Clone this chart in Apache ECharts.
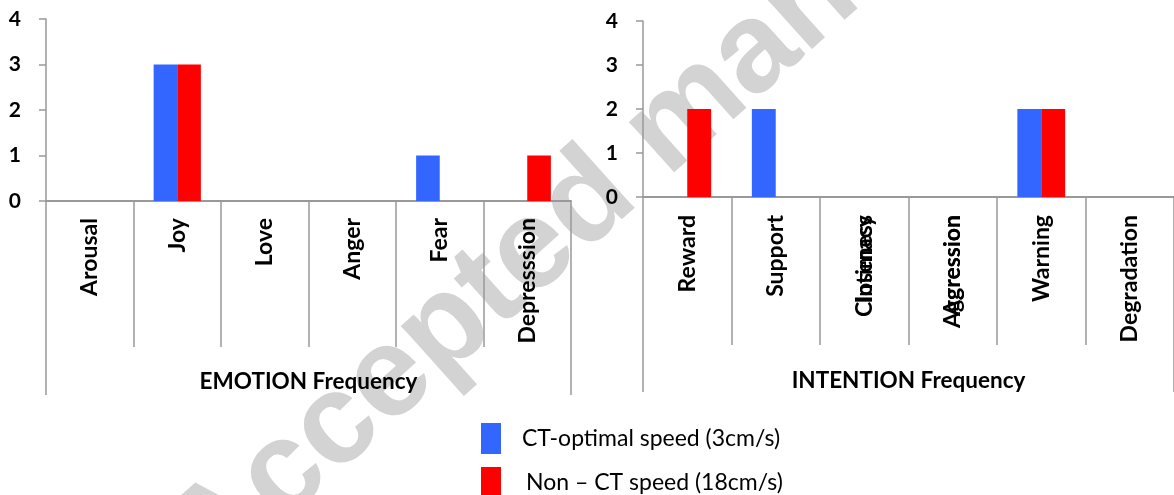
<!DOCTYPE html>
<html>
<head>
<meta charset="utf-8">
<title>Emotion / Intention frequency</title>
<script src="https://cdn.jsdelivr.net/npm/echarts@6/dist/echarts.min.js"></script>
<style>
  html, body { margin: 0; padding: 0; background: #fff; }
  #main { width: 1174px; height: 495px; }
</style>
</head>
<body>
<div id="main"></div>
<script>
// categories
var emotionCats = ['Arousal', 'Joy', 'Love', 'Anger', 'Fear', 'Depresssion'];
var intentionCats = ['Reward', 'Support', 'Closeness', 'Aggression', 'Warning', 'Degradation'];
// second labels drawn on top of the 3rd and 4th intention labels (they overlap in the source)
var intentionOverlay = ['', '', 'Intimacy', 'Agression', '', ''];

// series values
var emotionCT = [0, 3, 0, 0, 1, 0];
var emotionNonCT = [0, 3, 0, 0, 0, 1];
var intentionCT = [0, 2, 0, 0, 2, 0];
var intentionNonCT = [2, 0, 0, 0, 2, 0];

var seriesNames = ['CT-optimal speed (3cm/s)', 'Non \u2013 CT speed (18cm/s)'];
var groupTitles = ['EMOTION Frequency', 'INTENTION Frequency'];
var yTicks = { min: 0, max: 4, interval: 1 };

var FONT = 'Lato';
var GREY = '#999999';
var BLUE = '#3366FF';
var RED = '#FF0000';

// category axis with vertical labels
function catAxis(grid, data, labelMargin, tickLen) {
  return {
    type: 'category',
    gridIndex: grid,
    data: data,
    position: 'bottom',
    axisLine: { show: true, lineStyle: { color: GREY, width: 2 } },
    axisTick: { show: true, interval: 0, length: tickLen, lineStyle: { color: GREY, width: 1.5 } },
    axisLabel: {
      interval: 0, rotate: 90, margin: labelMargin,
      color: '#000', fontFamily: FONT, fontWeight: 'bold', fontSize: 23
    },
    splitLine: { show: false }
  };
}

// outer bracket axis: one category spanning the whole grid, carries the group title
function groupAxis(grid, title, labelMargin, tickLen) {
  return {
    type: 'category',
    gridIndex: grid,
    data: [title],
    position: 'bottom',
    axisLine: { show: false },
    axisTick: { show: true, interval: 0, length: tickLen, lineStyle: { color: GREY, width: 1.5 } },
    axisLabel: {
      interval: 0, margin: labelMargin,
      color: '#000', fontFamily: FONT, fontWeight: 'bold', fontSize: 22.5
    }
  };
}

function valAxis(grid) {
  return {
    type: 'value',
    gridIndex: grid,
    min: yTicks.min, max: yTicks.max, interval: yTicks.interval,
    axisLine: { show: true, lineStyle: { color: GREY, width: 1.5 } },
    axisTick: { show: true, length: 7, lineStyle: { color: GREY, width: 1.5 } },
    splitLine: { show: false },
    axisLabel: { margin: 25, color: '#000', fontFamily: FONT, fontWeight: 'bold', fontSize: 21 }
  };
}

// one legend box per series, stacked by hand (the second one runs off the bottom like the source)
function legendItem(name, top, pad) {
  return {
    left: 476,
    top: top,
    icon: 'rect',
    itemWidth: 20,
    itemHeight: 31,
    data: [name],
    textStyle: { color: '#000', fontFamily: FONT, fontSize: 23, padding: [0, 0, 0, pad] }
  };
}

function bar(name, xIdx, yIdx, data, color, gap) {
  return {
    name: name,
    type: 'bar',
    xAxisIndex: xIdx,
    yAxisIndex: yIdx,
    data: data,
    barGap: '0%',
    barCategoryGap: gap,
    itemStyle: { color: color },
    z: 3
  };
}

var overlayAxis = catAxis(1, intentionOverlay, 18, 0);
overlayAxis.axisLine = { show: false };
overlayAxis.axisTick = { show: false };

var myChart = echarts.init(document.getElementById('main'), null, { renderer: 'canvas' });
myChart.setOption({
  animation: false,
  backgroundColor: '#fff',
  grid: [
    { left: 46, top: 19, width: 525, height: 182 },
    { left: 643, top: 21, width: 539, height: 176 }
  ],
  xAxis: [
    catAxis(0, emotionCats, 17, 146),
    catAxis(1, intentionCats, 18, 148),
    groupAxis(0, groupTitles[0], 169, 194),
    groupAxis(1, groupTitles[1], 172, 195),
    overlayAxis
  ],
  yAxis: [valAxis(0), valAxis(1)],
  legend: [
    legendItem(seriesNames[0], 418, 16),
    legendItem(seriesNames[1], 462, 20)
  ],
  // watermark of the source image
  graphic: [{
    type: 'text',
    x: 188,
    y: 560,
    rotation: 0.73,
    z: -10,
    silent: true,
    style: {
      text: 'Accepted manuscript',
      fill: '#d3d3d3',
      fontFamily: 'Liberation Sans',
      fontWeight: 'bold',
      fontSize: 128,
      align: 'left',
      verticalAlign: 'middle'
    }
  }],
  series: [
    bar(seriesNames[0], 0, 0, emotionCT, BLUE, '46%'),
    bar(seriesNames[1], 0, 0, emotionNonCT, RED, '46%'),
    bar(seriesNames[0], 1, 1, intentionCT, BLUE, '46%'),
    bar(seriesNames[1], 1, 1, intentionNonCT, RED, '46%')
  ]
});
</script>
</body>
</html>
